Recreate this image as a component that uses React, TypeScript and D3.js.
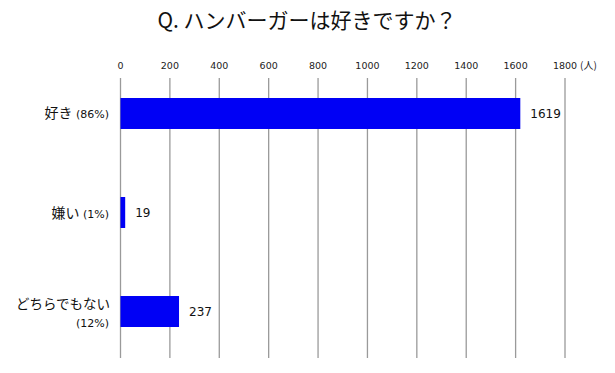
import React from "react";
import * as d3 from "d3";

const categories = ["好き", "嫌い", "どちらでもない"];
const percents = ["(86%)", "(1%)", "(12%)"];
const values = [1619, 19, 237];
const ticks = [0, 200, 400, 600, 800, 1000, 1200, 1400, 1600, 1800];

const W = 615;
const H = 373;
const font = "'Noto Sans CJK JP', 'Noto Sans', sans-serif";
const numFont = "'DejaVu Sans', 'Liberation Sans', sans-serif";

const App: React.FC = () => {
  const x = d3.scaleLinear().domain([0, 1800]).range([120.5, 565]);
  const y = d3
    .scaleBand()
    .domain(categories)
    .range([48.5, 376.5])
    .paddingInner(0.687)
    .paddingOuter(0.5);

  const gridTop = 78;
  const gridBottom = 358;

  return (
    <svg
      width={W}
      height={H}
      style={{ position: "absolute", left: 0, top: 0, background: "#fff" }}
      fontFamily={font}
    >
      <text x={307} y={28} textAnchor="middle" fontSize={21} fill="#111">
        Q. ハンバーガーは好きですか？
      </text>

      {ticks.map((t) => (
        <g key={t}>
          <text
            x={x(t)}
            y={69}
            textAnchor="middle"
            fontSize={9.5}
            fill="#222"
            fontFamily={numFont}
          >
            {t}
          </text>
          <line
            x1={x(t)}
            x2={x(t)}
            y1={gridTop}
            y2={gridBottom}
            stroke="#9a9a9a"
            strokeWidth={1.3}
          />
        </g>
      ))}
      <text x={580} y={69} fontSize={10} fill="#222">
        (人)
      </text>

      {categories.map((c, i) => {
        const by = y(c)!;
        const bh = y.bandwidth();
        const cy = by + bh / 2;
        const twoLine = c.length > 4;
        return (
          <g key={c}>
            <rect
              x={x(0)}
              y={by}
              width={x(values[i]) - x(0)}
              height={bh}
              fill="#0000f5"
            />
            <text
              x={x(values[i]) + 10}
              y={cy + 4.5}
              fontSize={12}
              fill="#111"
              fontFamily={numFont}
            >
              {values[i]}
            </text>
            {twoLine ? (
              <>
                <text x={110} y={cy - 3} textAnchor="end" fontSize={13.5} fill="#111">
                  {c}
                </text>
                <text x={109} y={cy + 15} textAnchor="end" fontSize={11} fill="#111" fontFamily={numFont}>
                  {percents[i]}
                </text>
              </>
            ) : (
              <text x={109} y={cy + 5} textAnchor="end" fontSize={14} fill="#111">
                {c}
                <tspan fontSize={11} fontFamily={numFont}> {percents[i]}</tspan>
              </text>
            )}
          </g>
        );
      })}
    </svg>
  );
};

export default App;
